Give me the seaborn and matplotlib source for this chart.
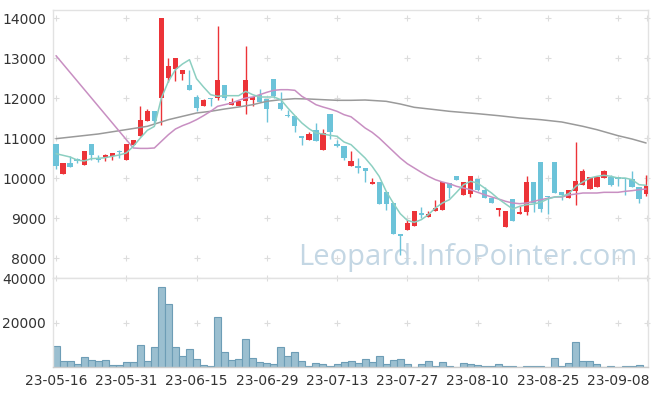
import matplotlib.pyplot as plt
import seaborn as sns
import numpy as np
import pandas as pd

# tick labels (every 10 trading days)
tick_labels = ['23-05-16', '23-05-31', '23-06-15', '23-06-29', '23-07-13',
               '23-07-27', '23-08-10', '23-08-25', '23-09-08']

opens = [10858, 10092, 10383, 10475, 10317, 10858, 10483, 10517, 10542, 10675,
         10442, 10833, 11042, 11433, 11683, 12000, 12500, 12725, 12600, 12325,
         12025, 11800, 12000, 12000, 12325, 11817, 11800, 11917, 11950, 12083,
         11983, 12483, 11875, 11575, 11558, 11058, 10942, 11208, 10700, 11600,
         10858, 10808, 10292, 10292, 10250, 9842, 9908, 9658, 9375, 8600,
         8708, 8792, 9125, 9025, 9167, 9208, 9875, 10058, 9567, 9600,
         9983, 9700, 9500, 9192, 8775, 9475, 9100, 9142, 9892, 10408,
         9558, 10408, 9642, 9492, 9667, 9817, 9725, 9775, 9992, 10017,
         10017, 10000, 9975, 9775, 9600]
highs = [10858, 10375, 10542, 10492, 10683, 10858, 10575, 10608, 10625, 10700,
         10858, 10958, 11808, 11725, 11683, 14000, 13000, 13000, 12708, 12708,
         12083, 11975, 12000, 13808, 12325, 12000, 11933, 13308, 12017, 12225,
         11983, 12483, 12142, 11708, 11558, 11058, 11142, 11375, 11225, 11600,
         10942, 10808, 10667, 10500, 10250, 10000, 9908, 9658, 9375, 8600,
         8958, 9167, 9275, 9183, 9442, 9908, 9875, 10058, 9892, 10058,
         9983, 9767, 9500, 9250, 9175, 9475, 9292, 10042, 9892, 10408,
         9558, 10408, 9642, 9708, 10900, 10225, 10017, 10017, 10208, 10083,
         10017, 10000, 10167, 9775, 10083]
lows = [10225, 10092, 10267, 10375, 10317, 10458, 10408, 10417, 10442, 10500,
        10442, 10833, 11042, 11433, 11333, 11333, 12392, 12417, 12458, 12200,
        11683, 11800, 11792, 11958, 11958, 11817, 11800, 11600, 11808, 11892,
        11408, 12000, 11708, 11525, 11158, 10825, 10942, 10917, 10700, 10975,
        10775, 10442, 10292, 10125, 9892, 9842, 9358, 9192, 8592, 8075,
        8708, 8792, 9000, 9025, 9167, 9208, 9500, 9942, 9567, 9525,
        9667, 9500, 9375, 9042, 8775, 8917, 9100, 9075, 9142, 9150,
        9108, 9625, 9458, 9492, 9333, 9817, 9725, 9775, 9992, 9792,
        9792, 9583, 9775, 9375, 9542]
closes = [10292, 10375, 10267, 10417, 10683, 10583, 10442, 10567, 10625, 10642,
          10858, 10958, 11458, 11683, 11433, 14000, 12808, 13000, 12708, 12200,
          11742, 11950, 11967, 12458, 12000, 11900, 11933, 12458, 12017, 11892,
          11725, 12042, 11733, 11542, 11292, 11000, 11108, 10917, 11125, 11142,
          10800, 10492, 10417, 10250, 10183, 9908, 9358, 9358, 8592, 8542,
          8875, 9167, 9083, 9100, 9250, 9908, 9750, 9942, 9892, 10058,
          9708, 9500, 9375, 9250, 9175, 8917, 9142, 9892, 9375, 9233,
          9525, 9625, 9575, 9708, 9933, 10183, 10017, 10017, 10183, 9833,
          9983, 9975, 9775, 9475, 9808]
volumes = [9500, 2530, 2530, 1200, 4300, 3100, 2500, 3100, 750, 750,
           2200, 2200, 10100, 2500, 8800, 36050, 28150, 8800, 4770, 7900,
           3430, 750, 300, 22650, 6550, 3000, 3400, 12370, 3870, 2090,
           1640, 1200, 8800, 4770, 6550, 2500, 300, 1640, 1200, 300,
           1490, 2090, 2530, 1640, 3430, 2090, 4770, 1200, 2980, 3430,
           1200, 0, 1490, 2530, 600, 2090, 300, 0, 1640, 1200,
           750, 300, 300, 1490, 300, 600, 0, 300, 600, 300,
           0, 3870, 300, 1640, 11030, 2530, 2530, 1200, 0, 600,
           0, 600, 300, 750, 0]

ma5 = [10608, 10567, 10525, 10450, 10425, 10483, 10492, 10508, 10542, 10575,
       10625, 10792, 11000, 11192, 11290, 12000, 12417, 12708, 12850, 12958,
       12483, 12275, 12083, 12042, 12058, 12058, 12058, 12167, 12083, 12025,
       12025, 12025, 11958, 11750, 11558, 11375, 11233, 11125, 11100, 11067,
       11042, 10900, 10833, 10667, 10500, 10292, 10042, 9667, 9375, 9108,
       8942, 8892, 8958, 9083, 9250, 9375, 9458, 9640, 9830, 9917,
       9875, 9750, 9625, 9475, 9350, 9225, 9292, 9333, 9350, 9392,
       9475, 9525, 9542, 9608, 9792, 9900, 10000, 10042, 10067, 10042,
       10000, 10000, 9958, 9833, 9817]

ma20_idx = [0] + list(range(11, 85))
ma20 = [13058, 10750, 10740, 10740, 10750, 10917, 11083, 11225, 11308, 11375,
        11458, 11558, 11667, 11792, 11833, 11875, 11942, 12000, 12025, 12083,
        12142, 12192, 12208, 12208, 12192, 12042, 11942, 11833, 11775, 11725,
        11667, 11583, 11530, 11392, 11250, 11142, 11000, 10833, 10667, 10500,
        10358, 10250, 10142, 10042, 9958, 9900, 9858, 9792, 9750, 9708,
        9642, 9583, 9525, 9475, 9417, 9375, 9358, 9375, 9417, 9458,
        9492, 9525, 9525, 9575, 9600, 9625, 9625, 9625, 9642, 9642,
        9642, 9667, 9683, 9708, 9725]

ma60_idx = [0, 6, 13, 16, 18, 20, 22, 24, 26, 28, 30, 32, 34, 36, 38, 40, 42,
            44, 47, 49, 51, 54, 56, 60, 63, 66, 69, 72, 75, 77, 80, 82, 84]
ma60 = [10983, 11100, 11292, 11458, 11542, 11625, 11667, 11725, 11775, 11833,
        11917, 11958, 11983, 11975, 11958, 11942, 11942, 11950, 11917, 11850,
        11767, 11708, 11667, 11608, 11558, 11500, 11458, 11400, 11292, 11208,
        11058, 10975, 10875]

RED = '#ec3338'
BLUE = '#6cc3d9'

df = pd.DataFrame({'open': opens, 'high': highs, 'low': lows,
                   'close': closes, 'volume': volumes})
df['idx'] = np.arange(len(df))
df['up'] = df['close'] >= df['open']

sns.set_style('white')
plt.rcParams['font.family'] = ['DejaVu Sans']

fig = plt.figure(figsize=(6.57, 3.96), dpi=100)
W, H = 657, 396
ax = fig.add_axes([53 / W, 1 - 278 / H, 595 / W, 268 / H])
axv = fig.add_axes([53 / W, 1 - 367 / H, 595 / W, 89 / H], sharex=ax)

xlim = (-0.43, 84.27)
tick_pos = list(range(0, 81, 10))

# grid "+" marks
for a, yl in ((ax, range(8000, 14001, 1000)), (axv, [20000, 40000])):
    gx, gy = np.meshgrid(tick_pos + [xlim[1] - 0.1], list(yl))
    a.scatter(gx.ravel(), gy.ravel(), marker='+', s=18, color='#dcdcdc',
              linewidths=0.8, zorder=0, clip_on=False)

# candles
colors = np.where(df['up'], RED, BLUE)
ax.vlines(df['idx'], df['low'], df['high'], colors=colors, lw=1.0, zorder=2)
body_lo = np.minimum(df['open'], df['close'])
body_h = np.maximum(np.abs(df['close'] - df['open']), 30)
ax.bar(df['idx'], body_h, bottom=body_lo, width=0.74, color=colors,
       linewidth=0, zorder=3)

# moving averages
sns.lineplot(x=ma60_idx, y=ma60, ax=ax, color='#9a9a9a', lw=1.1, zorder=4)
sns.lineplot(x=ma20_idx, y=ma20, ax=ax, color='#c88fc2', lw=1.1, zorder=4)
sns.lineplot(x=df['idx'], y=ma5, ax=ax, color='#8ccfc1', lw=1.1, zorder=4)

ax.text(0.982, 0.05, 'Leopard.InfoPointer.com', transform=ax.transAxes,
        ha='right', va='baseline', fontsize=21, color='#c4d7e4',
        family=['Open Sans', 'DejaVu Sans'], zorder=1)

ax.set_xlim(*xlim)
ax.set_ylim(7500, 14200)
ax.set_yticks(range(8000, 14001, 1000))
ax.tick_params(axis='x', which='both', bottom=False, labelbottom=False)

# volume
axv.bar(df['idx'], df['volume'], width=1.0, color='#9bbfd0',
        edgecolor='#6d9db6', linewidth=0.8, zorder=2)
axv.set_ylim(0, 40000)
axv.set_yticks([20000, 40000])
axv.set_xticks(tick_pos)
axv.set_xticklabels(tick_labels)

for a in (ax, axv):
    a.set_xlabel('')
    a.set_ylabel('')
    a.tick_params(axis='both', length=0, labelsize=10, colors='#333333', pad=5)
    for s in a.spines.values():
        s.set_color('#e2e2e2')
        s.set_linewidth(1)
axv.spines['bottom'].set_color('#cccccc')
ax.tick_params(axis='x', labelbottom=False)

fig.savefig('out.png', dpi=100)
